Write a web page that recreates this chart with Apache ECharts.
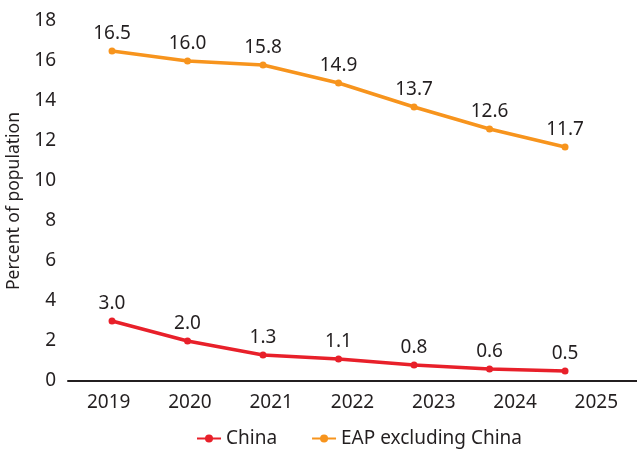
<!DOCTYPE html>
<html><head><meta charset="utf-8">
<script src="https://cdn.jsdelivr.net/npm/echarts@6/dist/echarts.min.js"></script>
<style>html,body{margin:0;padding:0;background:#fff}#c{width:637px;height:455px}</style>
</head><body><div id="c"></div>
<script>
const years = ['2019','2020','2021','2022','2023','2024','2025'];
const pointIndex = [0,1,2,3,4,5,6];
const china = [3.0,2.0,1.3,1.1,0.8,0.6,0.5];
const eap = [16.5,16.0,15.8,14.9,13.7,12.6,11.7];
const yTicks = [0,2,4,6,8,10,12,14,16,18];

const font = 'Noto Sans';
const chart = echarts.init(document.getElementById('c'));
function pairs(vals){ return vals.map((v,i)=>[pointIndex[i], v]); }
const lbl = {show:true, position:'top', distance:4, color:'#231f20', fontSize:19, fontFamily:font, formatter:p=>p.value[1].toFixed(1)};
chart.setOption({
  animation:false,
  grid:{left:68, right:0, top:21, bottom:74, containLabel:false, outerBoundsMode:'none'},
  legend:{bottom:2, left:191, itemGap:34, itemWidth:24, itemHeight:10,
    textStyle:{fontSize:19, fontFamily:font, color:'#231f20'},
    data:['China','EAP excluding China']},
  xAxis:[
    {type:'category', data:years, boundaryGap:true,
     axisLine:{lineStyle:{color:'#231f20', width:2}}, axisTick:{show:false},
     axisLabel:{fontSize:19, fontFamily:font, color:'#231f20', margin:12}},
    {type:'value', min:-0.583, max:6.953, show:false}
  ],
  yAxis:{type:'value', min:0, max:18, interval:2,
    name:'Percent of population', nameLocation:'middle', nameGap:43, nameRotate:90,
    nameTextStyle:{fontSize:17.5, fontFamily:font, color:'#231f20'},
    axisLine:{show:false}, axisTick:{show:false}, splitLine:{show:false},
    axisLabel:{fontSize:19, fontFamily:font, color:'#231f20', margin:12,
      formatter:v=>yTicks.includes(v)?String(v):''}},
  series:[
    {name:'China', type:'line', xAxisIndex:1, data:pairs(china), color:'#e8202a',
     lineStyle:{width:3.5}, symbol:'circle', symbolSize:7, label:lbl},
    {name:'EAP excluding China', type:'line', xAxisIndex:1, data:pairs(eap), color:'#f7941d',
     lineStyle:{width:3.5}, symbol:'circle', symbolSize:7, label:lbl}
  ]
});
</script></body></html>
